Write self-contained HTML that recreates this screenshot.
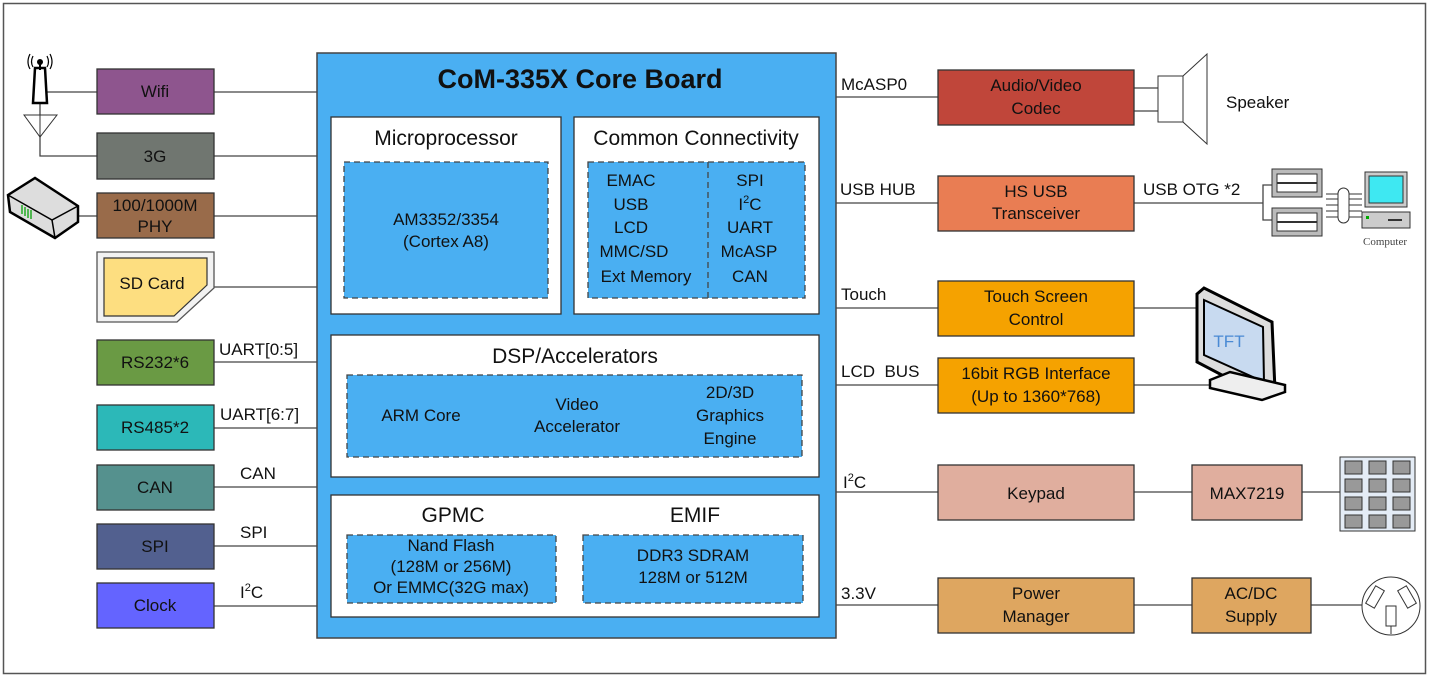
<!DOCTYPE html>
<html><head><meta charset="utf-8"><style>
html,body{margin:0;padding:0;background:#fff}
svg{display:block;font-family:"Liberation Sans",Arial,sans-serif}
</style></head><body>
<svg width="1430" height="676" viewBox="0 0 1430 676" xmlns="http://www.w3.org/2000/svg">
<rect x="3.5" y="3.5" width="1422" height="670" fill="#fff" stroke="#555" stroke-width="1.5"/>

<g stroke="#444" stroke-width="1.3">
<line x1="214" y1="92" x2="317" y2="92"/>
<line x1="214" y1="156" x2="317" y2="156"/>
<line x1="214" y1="216" x2="317" y2="216"/>
<line x1="214" y1="287" x2="317" y2="287"/>
<line x1="214" y1="362" x2="317" y2="362"/>
<line x1="214" y1="428" x2="317" y2="428"/>
<line x1="214" y1="487" x2="317" y2="487"/>
<line x1="214" y1="546" x2="317" y2="546"/>
<line x1="214" y1="606" x2="317" y2="606"/>
<line x1="45" y1="92" x2="97" y2="92"/>
<polyline points="40,88 40,156 97,156" fill="none"/>
<line x1="75" y1="216" x2="97" y2="216"/>
</g>

<g stroke="#333" stroke-width="1.3">
<rect x="97" y="69" width="117" height="45" fill="#8e558e"/>
<rect x="97" y="133" width="117" height="46" fill="#707670"/>
<rect x="97" y="193" width="117" height="45" fill="#996b4a"/>
<rect x="97" y="340" width="117" height="45" fill="#6a9a44"/>
<rect x="97" y="405" width="117" height="45" fill="#2cb8b8"/>
<rect x="97" y="465" width="117" height="45" fill="#55918e"/>
<rect x="97" y="524" width="117" height="45" fill="#52608f"/>
<rect x="97" y="583" width="117" height="45" fill="#6464ff"/>
</g>
<polygon points="97,252 214,252 214,288 177,322 97,322" fill="#f2f2f2" stroke="#555" stroke-width="1.3"/>
<polygon points="104,258 207,258 207,285 174,316 104,316" fill="#fdde80" stroke="#333" stroke-width="1.2"/>
<g font-size="17" text-anchor="middle" fill="#111">
<text x="155" y="97">Wifi</text>
<text x="155" y="162">3G</text>
<text x="155" y="211">100/1000M</text>
<text x="155" y="232">PHY</text>
<text x="152" y="289">SD Card</text>
<text x="155" y="368">RS232*6</text>
<text x="155" y="433">RS485*2</text>
<text x="155" y="493">CAN</text>
<text x="155" y="552">SPI</text>
<text x="155" y="611">Clock</text>
</g>
<g font-size="17" fill="#111">
<text x="219" y="355">UART[0:5]</text>
<text x="220" y="420">UART[6:7]</text>
<text x="240" y="479">CAN</text>
<text x="240" y="538">SPI</text>
<text x="240" y="598">I<tspan font-size="11" dy="-7">2</tspan><tspan dy="7">C</tspan></text>
</g>

<path d="M35,68 L45,68 L47,103 L33,103 Z" fill="#fff" stroke="#000" stroke-width="2.5"/>
<circle cx="40" cy="62" r="3" fill="#000"/>
<line x1="40" y1="62" x2="40" y2="70" stroke="#000" stroke-width="2"/>
<path d="M33,56 Q30,62 33,67 M47,56 Q50,62 47,67 M30,54 Q26,62 30,69 M50,54 Q54,62 50,69" fill="none" stroke="#000" stroke-width="1.2"/>
<polygon points="24,115 57,115 40,137" fill="#fff" stroke="#333" stroke-width="1"/>
<line x1="40" y1="115" x2="40" y2="137" stroke="#333"/>
<path d="M8,195 L35,178 L78,206 L78,222 L55,238 L10,212 Z" fill="#ddd" stroke="#000" stroke-width="2.5"/>
<path d="M8,195 L52,220 L78,206" fill="none" stroke="#000" stroke-width="1.5"/>
<line x1="52" y1="220" x2="55" y2="238" stroke="#000" stroke-width="1.5"/>
<g stroke="#2a2" stroke-width="1.5"><line x1="22" y1="205" x2="22" y2="214"/><line x1="25" y1="207" x2="25" y2="216"/><line x1="28" y1="209" x2="28" y2="218"/><line x1="31" y1="210" x2="31" y2="219"/></g>

<rect x="317" y="53" width="519" height="585" fill="#4aaff2" stroke="#444" stroke-width="1.5"/>
<text x="580" y="88" font-size="27" font-weight="bold" text-anchor="middle" fill="#111">CoM-335X Core Board</text>
<g fill="#fff" stroke="#333" stroke-width="1.3">
<rect x="331" y="117" width="230" height="197"/>
<rect x="574" y="117" width="245" height="197"/>
<rect x="331" y="335" width="488" height="142"/>
<rect x="331" y="495" width="488" height="122"/>
</g>
<g fill="#4aaff2" stroke="#444" stroke-width="1.3" stroke-dasharray="6,4">
<rect x="344" y="162" width="204" height="136"/>
<rect x="588" y="162" width="217" height="136"/>
<line x1="708" y1="162" x2="708" y2="298"/>
<rect x="347" y="375" width="455" height="82"/>
<rect x="347" y="535" width="209" height="68"/>
<rect x="583" y="535" width="220" height="68"/>
</g>
<g text-anchor="middle" fill="#111">
<text x="446" y="145" font-size="21">Microprocessor</text>
<text x="696" y="145" font-size="21">Common Connectivity</text>
<text x="575" y="363" font-size="21">DSP/Accelerators</text>
<text x="453" y="522" font-size="21">GPMC</text>
<text x="695" y="522" font-size="21">EMIF</text>
<g font-size="17">
<text x="446" y="225">AM3352/3354</text>
<text x="446" y="247">(Cortex A8)</text>
<text x="631" y="186">EMAC</text>
<text x="631" y="210">USB</text>
<text x="631" y="233">LCD</text>
<text x="634" y="257">MMC/SD</text>
<text x="646" y="282">Ext Memory</text>
<text x="750" y="186">SPI</text>
<text x="750" y="210">I<tspan font-size="11" dy="-7">2</tspan><tspan dy="7">C</tspan></text>
<text x="750" y="233">UART</text>
<text x="749" y="257">McASP</text>
<text x="750" y="282">CAN</text>
<text x="421" y="421">ARM Core</text>
<text x="577" y="410">Video</text>
<text x="577" y="432">Accelerator</text>
<text x="730" y="398">2D/3D</text>
<text x="730" y="421">Graphics</text>
<text x="730" y="444">Engine</text>
<text x="451" y="551">Nand Flash</text>
<text x="451" y="572">(128M or 256M)</text>
<text x="451" y="593">Or EMMC(32G max)</text>
<text x="693" y="561">DDR3 SDRAM</text>
<text x="693" y="583">128M or 512M</text>
</g>
</g>

<g stroke="#444" stroke-width="1.3">
<line x1="836" y1="97" x2="938" y2="97"/>
<line x1="836" y1="203" x2="938" y2="203"/>
<line x1="836" y1="308" x2="938" y2="308"/>
<line x1="836" y1="385" x2="938" y2="385"/>
<line x1="836" y1="492" x2="938" y2="492"/>
<line x1="836" y1="605" x2="938" y2="605"/>
<line x1="1134" y1="88" x2="1158" y2="88"/>
<line x1="1134" y1="111" x2="1158" y2="111"/>
<line x1="1134" y1="203" x2="1263" y2="203"/>
<polyline points="1272,185 1263,185 1263,220 1272,220" fill="none"/>
<line x1="1134" y1="308" x2="1196" y2="308"/>
<line x1="1134" y1="385" x2="1218" y2="385"/>
<line x1="1134" y1="492" x2="1192" y2="492"/>
<line x1="1302" y1="492" x2="1340" y2="492"/>
<line x1="1134" y1="605" x2="1192" y2="605"/>
<line x1="1311" y1="605" x2="1363" y2="605"/>
</g>
<g font-size="17" fill="#111">
<text x="841" y="90">McASP0</text>
<text x="840" y="195">USB HUB</text>
<text x="841" y="300">Touch</text>
<text x="841" y="377">LCD&#160;&#160;BUS</text>
<text x="843" y="488">I<tspan font-size="11" dy="-7">2</tspan><tspan dy="7">C</tspan></text>
<text x="841" y="599">3.3V</text>
<text x="1143" y="195">USB OTG *2</text>
<text x="1226" y="108">Speaker</text>
</g>
<g stroke="#333" stroke-width="1.3">
<rect x="938" y="70" width="196" height="55" fill="#c0463a"/>
<rect x="938" y="176" width="196" height="55" fill="#e97d53"/>
<rect x="938" y="281" width="196" height="55" fill="#f5a200"/>
<rect x="938" y="358" width="196" height="55" fill="#f5a200"/>
<rect x="938" y="465" width="196" height="55" fill="#e0ae9e"/>
<rect x="938" y="578" width="196" height="55" fill="#dea660"/>
<rect x="1192" y="465" width="110" height="55" fill="#e0ae9e"/>
<rect x="1192" y="578" width="119" height="55" fill="#dea660"/>
</g>
<g font-size="17" text-anchor="middle" fill="#111">
<text x="1036" y="91">Audio/Video</text>
<text x="1036" y="114">Codec</text>
<text x="1036" y="197">HS USB</text>
<text x="1036" y="219">Transceiver</text>
<text x="1036" y="302">Touch Screen</text>
<text x="1036" y="325">Control</text>
<text x="1036" y="379">16bit RGB Interface</text>
<text x="1036" y="402">(Up to 1360*768)</text>
<text x="1036" y="499">Keypad</text>
<text x="1036" y="599">Power</text>
<text x="1036" y="622">Manager</text>
<text x="1247" y="499">MAX7219</text>
<text x="1251" y="599">AC/DC</text>
<text x="1251" y="622">Supply</text>
</g>

<rect x="1158" y="76" width="25" height="46" fill="#fff" stroke="#333"/>
<polygon points="1183,76 1207,54 1207,144 1183,122" fill="#fff" stroke="#333"/>

<g stroke="#333">
<rect x="1272" y="169" width="50" height="28" fill="#bbb"/>
<rect x="1277" y="174" width="40" height="18" fill="#fff"/>
<line x1="1277" y1="183" x2="1317" y2="183" stroke-width="2"/>
<rect x="1272" y="208" width="50" height="28" fill="#bbb"/>
<rect x="1277" y="213" width="40" height="18" fill="#fff"/>
<line x1="1277" y1="222" x2="1317" y2="222" stroke-width="2"/>
<g stroke-width="1"><line x1="1326" y1="194" x2="1362" y2="194"/><line x1="1326" y1="199" x2="1362" y2="199"/><line x1="1326" y1="205" x2="1362" y2="205"/><line x1="1326" y1="211" x2="1362" y2="211"/><line x1="1326" y1="217" x2="1362" y2="217"/></g>
<rect x="1338" y="188" width="11" height="35" rx="5.5" fill="#fff"/>
<rect x="1365" y="172" width="42" height="35" fill="#ccc"/>
<rect x="1369" y="176" width="34" height="27" fill="#3ee8f2"/>
<rect x="1362" y="212" width="48" height="16" fill="#ccc"/>
<rect x="1366" y="216" width="3" height="3" fill="#0a0" stroke="none"/>
<line x1="1388" y1="220" x2="1402" y2="220" stroke-width="2"/>
</g>
<text x="1385" y="245" font-size="11" font-family="Liberation Serif,serif" text-anchor="middle" fill="#444">Computer</text>

<path d="M1197,294 L1204,288 L1272,322 L1275,390 L1260,395 L1197,362 Z" fill="#ddd" stroke="#000" stroke-width="3"/>
<polygon points="1204,300 1263,327 1264,382 1204,355" fill="#c8daf0" stroke="#000" stroke-width="2"/>
<path d="M1210,380 L1230,372 L1285,385 L1285,392 L1262,400 L1210,388 Z" fill="#eee" stroke="#000" stroke-width="2.5"/>
<text x="1229" y="347" font-size="17" fill="#4a8ad4" text-anchor="middle">TFT</text>

<rect x="1340" y="457" width="75" height="74" fill="#e4ecf6" stroke="#333"/>
<g fill="#999" stroke="#333">
<rect x="1345" y="461" width="17" height="13"/><rect x="1369" y="461" width="17" height="13"/><rect x="1393" y="461" width="17" height="13"/>
<rect x="1345" y="479" width="17" height="13"/><rect x="1369" y="479" width="17" height="13"/><rect x="1393" y="479" width="17" height="13"/>
<rect x="1345" y="497" width="17" height="13"/><rect x="1369" y="497" width="17" height="13"/><rect x="1393" y="497" width="17" height="13"/>
<rect x="1345" y="515" width="17" height="13"/><rect x="1369" y="515" width="17" height="13"/><rect x="1393" y="515" width="17" height="13"/>
</g>
<circle cx="1391" cy="606" r="29" fill="#fff" stroke="#333"/>
<rect x="1386" y="606" width="10" height="20" fill="#fff" stroke="#333"/>
<line x1="1391" y1="626" x2="1391" y2="634" stroke="#333"/>
<rect x="1370" y="587" width="10" height="20" fill="#fff" stroke="#333" transform="rotate(30 1375 597)"/>
<rect x="1402" y="587" width="10" height="20" fill="#fff" stroke="#333" transform="rotate(-30 1407 597)"/>
</svg>
</body></html>
